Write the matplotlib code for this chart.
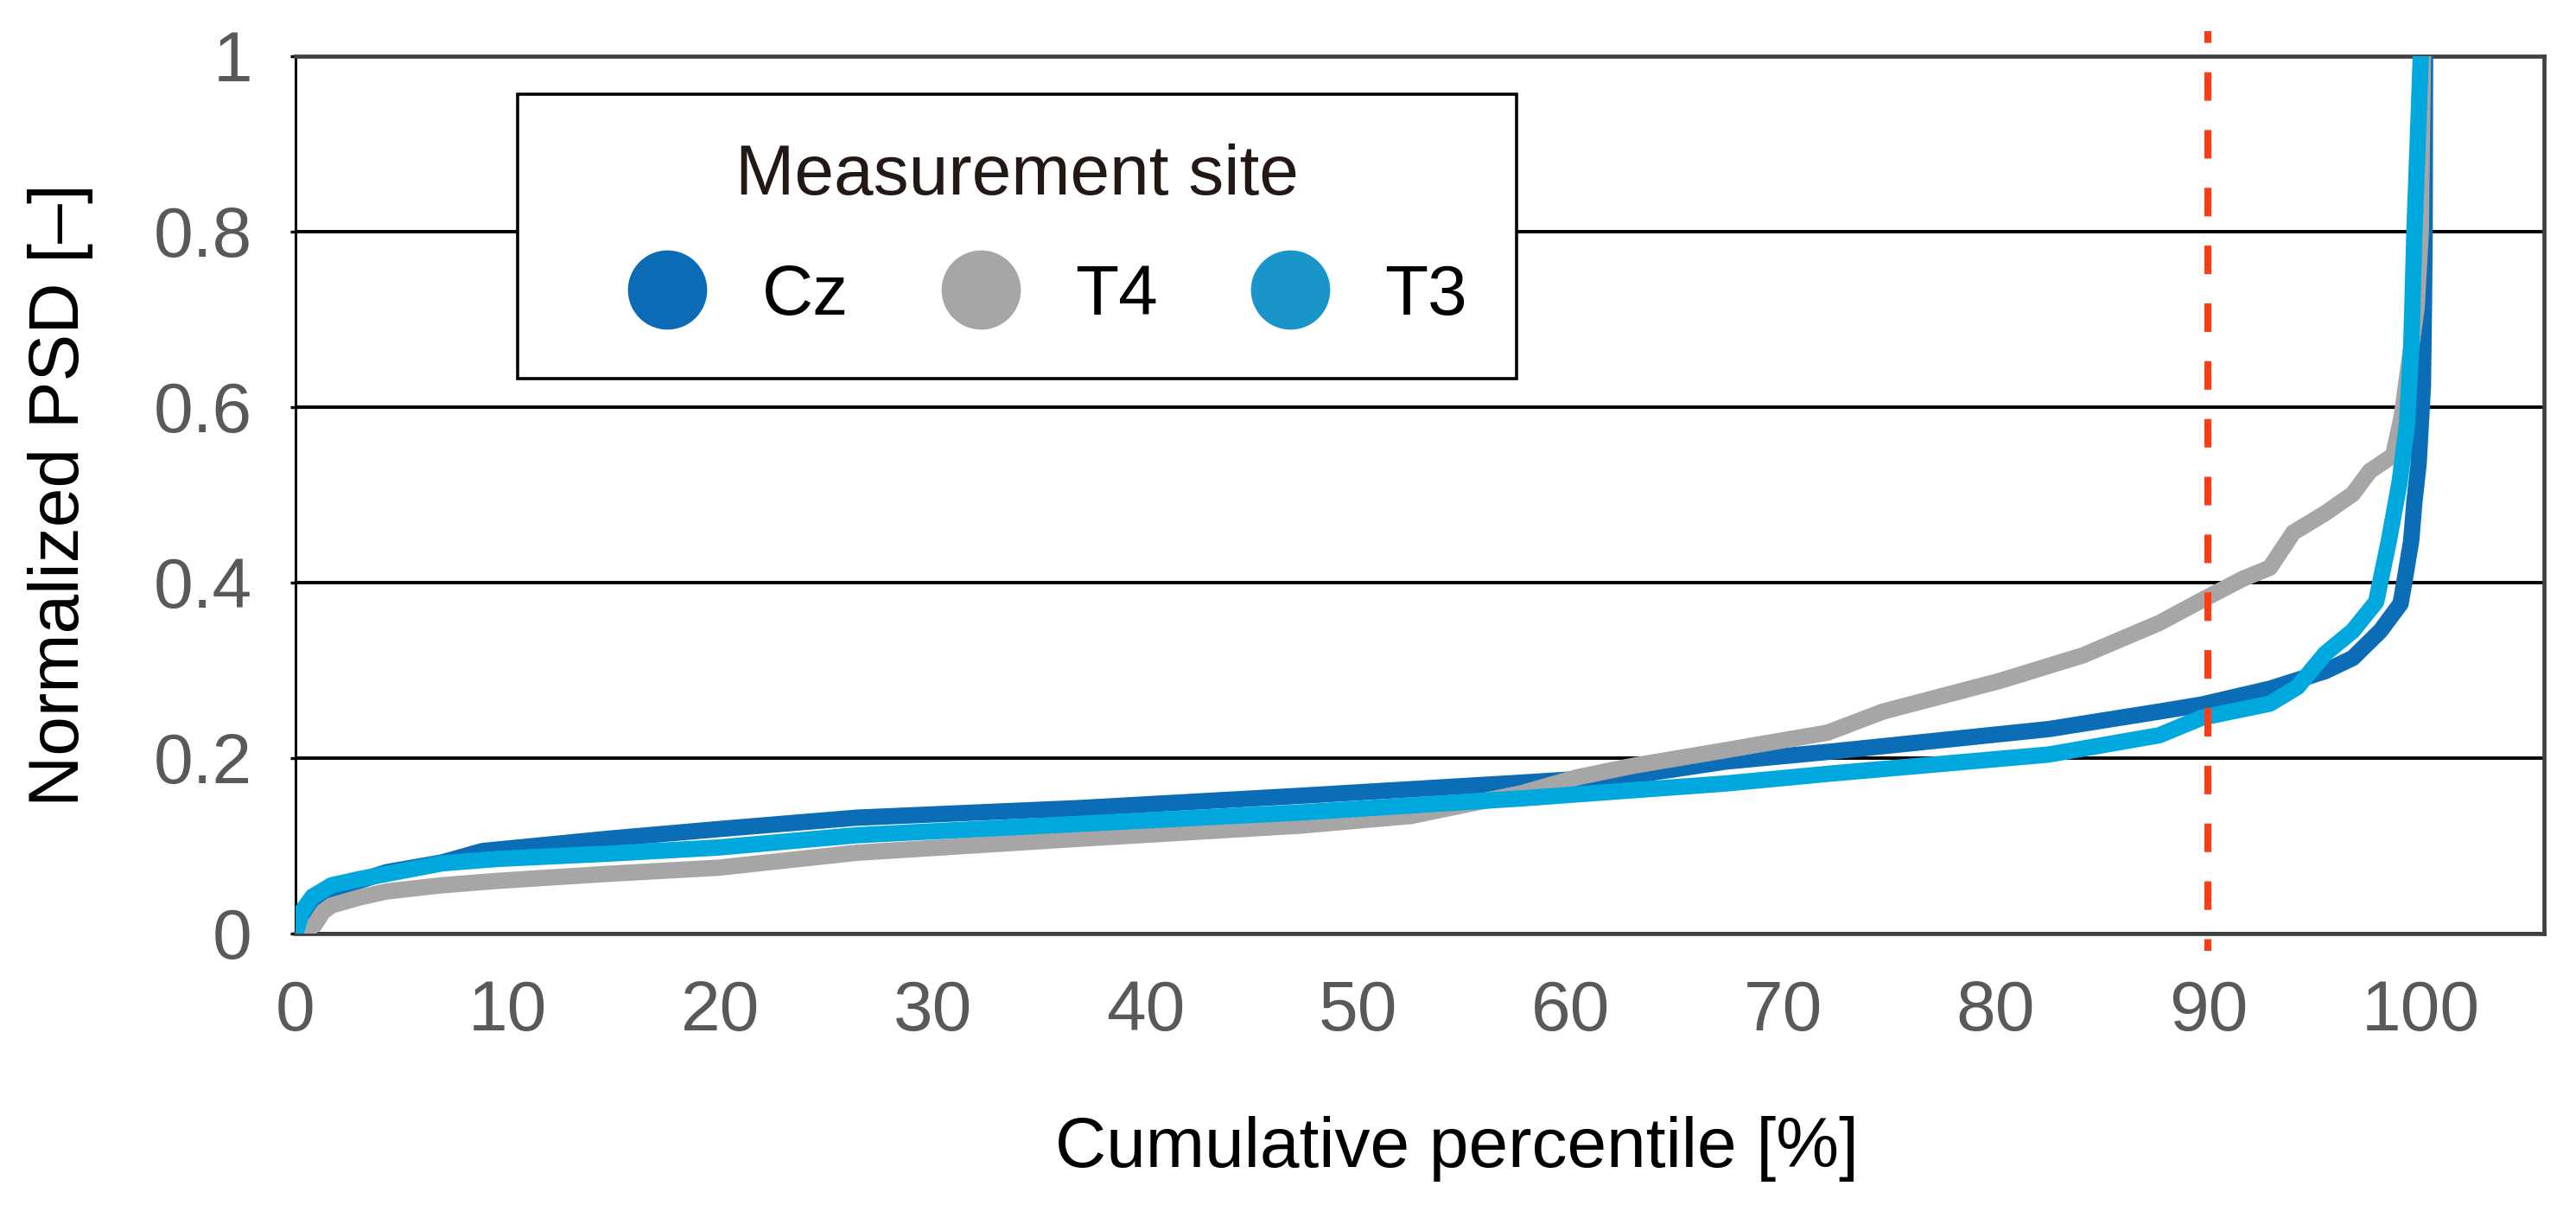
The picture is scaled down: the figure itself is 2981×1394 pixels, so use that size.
import matplotlib.pyplot as plt
from matplotlib.lines import Line2D

# cumulative percentile [%] -> normalized PSD
cz_x = [0, 0.3, 0.8, 1.7, 3.0, 4.3, 6.9, 8.8, 14.7, 19.9, 26.4, 36.9, 47.3,
        57.7, 62.9, 67.3, 72.1, 77.3, 82.5, 87.7, 89.7, 92.9, 95.5, 96.8,
        98.1, 99.05, 99.25, 99.55, 99.7, 99.9, 100.0, 100.1, 100.15, 100.18,
        100.2]
cz_y = [0, 0.02, 0.035, 0.05, 0.06, 0.07, 0.081, 0.094, 0.108, 0.119, 0.132,
        0.143, 0.157, 0.172, 0.180, 0.196, 0.207, 0.220, 0.233, 0.253, 0.261,
        0.279, 0.299, 0.314, 0.345, 0.376, 0.404, 0.448, 0.492, 0.536, 0.580,
        0.624, 0.72, 0.80, 1.0]

t4_x = [0.3, 0.9, 1.3, 1.7, 3.0, 4.3, 6.9, 9.5, 14.7, 19.9, 26.4, 36.9, 47.3,
        52.5, 57.7, 60.3, 62.9, 67.3, 72.1, 74.7, 80.2, 84.1, 87.7, 89.7,
        91.6, 92.9, 94.0, 95.5, 96.8, 97.6, 98.7, 99.1, 99.4, 99.8, 100.0,
        100.1]
t4_y = [0, 0.01, 0.025, 0.032, 0.041, 0.048, 0.055, 0.060, 0.068, 0.075,
        0.092, 0.108, 0.123, 0.134, 0.160, 0.178, 0.191, 0.209, 0.229, 0.253,
        0.288, 0.317, 0.354, 0.38, 0.404, 0.417, 0.457, 0.479, 0.501, 0.527,
        0.545, 0.589, 0.642, 0.712, 0.80, 1.0]

t3_x = [0, 0.3, 0.8, 1.7, 3.0, 4.3, 6.9, 9.5, 14.7, 19.9, 26.4, 36.9, 47.3,
        57.7, 67.3, 72.1, 77.3, 82.5, 85.1, 87.7, 89.7, 92.9, 94.2, 95.5,
        96.8, 97.9, 98.5, 99.0, 99.35, 99.55, 99.7, 99.9, 100.0]
t3_y = [0, 0.025, 0.042, 0.055, 0.062, 0.068, 0.080, 0.085, 0.091, 0.098,
        0.112, 0.125, 0.138, 0.154, 0.171, 0.182, 0.193, 0.204, 0.215, 0.226,
        0.246, 0.262, 0.281, 0.319, 0.345, 0.378, 0.448, 0.514, 0.580, 0.668,
        0.80, 0.932, 1.0]

sites = ['Cz', 'T4', 'T3']
line_colors = ['#0a6db6', '#a6a6a6', '#00a8de']
legend_colors = ['#0b6bb5', '#a6a6a6', '#1a95ca']
threshold = 90

x_ticks = [0, 10, 20, 30, 40, 50, 60, 70, 80, 90, 100]
y_ticks = [0, 0.2, 0.4, 0.6, 0.8, 1.0]
y_labels = ['0', '0.2', '0.4', '0.6', '0.8', '1']

plt.rcParams['font.family'] = ['Liberation Sans', 'DejaVu Sans']
fs = 29.5

fig = plt.figure(figsize=(14.905, 6.97), dpi=200)
ax = fig.add_axes([0.1147, 0.2253, 0.8729, 0.7281])

curves = [(cz_x, cz_y), (t4_x, t4_y), (t3_x, t3_y)]
for i, (xs, ys) in enumerate(curves):
    ax.plot(xs, ys, color=line_colors[i], lw=6.8, solid_capstyle='round',
            solid_joinstyle='round', zorder=3 + i)

# 90th percentile marker, runs a bit past the plot area
ax.plot([threshold, threshold], [1.029, -0.02], color='#ff3c14', lw=2.9,
        ls=(2.4, (4.1, 4.2)), clip_on=False, zorder=7)

ax.set_xlim(0, 105.8)
ax.set_ylim(0, 1)
ax.set_xticks(x_ticks)
ax.set_yticks(y_ticks)
ax.set_yticklabels(y_labels)
ax.tick_params(axis='both', labelsize=fs, labelcolor='#595959')
ax.tick_params(axis='x', length=0, pad=19)
ax.tick_params(axis='y', length=2, width=1.2, direction='out', pad=16)

ax.grid(axis='y', color='black', lw=1.4)
ax.set_axisbelow(True)
ax.spines['left'].set_color('black')
ax.spines['left'].set_linewidth(1.1)
for side in ['top', 'right', 'bottom']:
    ax.spines[side].set_color('#404040')
    ax.spines[side].set_linewidth(1.7)

ax.set_xlabel('Cumulative percentile [%]', fontsize=fs, color='black')
ax.xaxis.set_label_coords(0.5165, -0.208)
ax.set_ylabel('Normalized PSD [–]', fontsize=fs, color='black')
ax.yaxis.set_label_coords(-0.09, 0.5)

handles = [Line2D([], [], ls='none', marker='o', ms=32, mfc=c, mec=c)
           for c in legend_colors]
leg = ax.legend(handles, sites, loc='upper left',
                bbox_to_anchor=(0.0988, 0.9567), borderaxespad=0, ncol=3,
                title='Measurement site', fontsize=fs, title_fontsize=fs,
                frameon=True, fancybox=False, edgecolor='black',
                framealpha=1, borderpad=0.7, handlelength=2.83,
                handletextpad=-0.08, columnspacing=0.45, labelspacing=0.76)
leg.get_frame().set_linewidth(1.3)
leg.get_title().set_color('#231815')

fig.savefig('out.png', dpi=200)
